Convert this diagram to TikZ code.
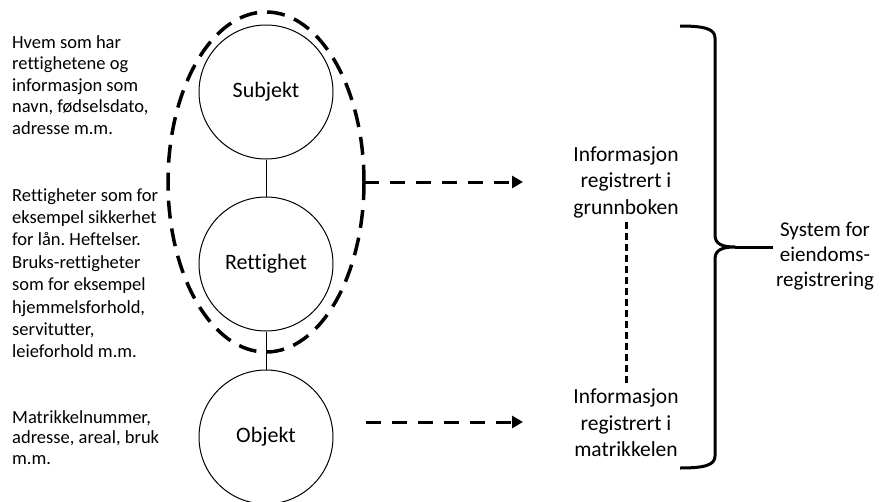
\documentclass[tikz,border=0pt]{standalone}
\usepackage{fontspec}
\setmainfont{Carlito}[Ligatures={NoCommon,NoContextual}]
\usetikzlibrary{arrows.meta}
\frenchspacing
\begin{document}
\begin{tikzpicture}[x=1pt,y=-1pt,
  desc/.style={anchor=north west,inner sep=0pt,align=left,font=\fontsize{18.5}{21.5}\selectfont},
  entity/.style={circle,draw,line width=1pt,minimum size=134pt,inner sep=0pt,font=\fontsize{22}{26}\selectfont},
  info/.style={align=center,inner sep=0pt,font=\fontsize{21.5}{26.5}\selectfont},
  link/.style={line width=1pt},
  ring/.style={line width=3.5pt,dash pattern=on 18pt off 10pt},
  flow/.style={line width=3pt,dash pattern=on 15pt off 11pt,-{Triangle[length=11pt,width=12pt]}},
  chain/.style={line width=3pt,dash pattern=on 7pt off 4pt},
  bracket/.style={line width=3pt,line join=round}]
\useasboundingbox (0,0) rectangle (881,501);

% descriptions on the left
\node[desc] (d1) at (12,35) {Hvem som har\\rettighetene og\\informasjon som\\navn, fødselsdato,\\adresse m.m.};
\node[desc,font=\fontsize{18.5}{22.4}\selectfont] (d2) at (12,188) {Rettigheter som for\\eksempel sikkerhet\\for lån. Heftelser.\\Bruks-rettigheter\\som for eksempel\\hjemmelsforhold,\\servitutter,\\leieforhold m.m.};
\node[desc,font=\fontsize{18.5}{20.5}\selectfont] (d3) at (12,410) {Matrikkelnummer,\\adresse, areal, bruk\\m.m.};

% the three entities
\node[entity] (subj) at (266,92) {Subjekt};
\node[entity] (rett) at (266,264) {Rettighet};
\node[entity] (obj) at (266,437) {Objekt};
\draw[link] (subj) -- (rett);
\draw[link] (rett) -- (obj);

% dashed grouping around subject and right
\draw[ring] (266,182) ellipse [x radius=98, y radius=170];
\coordinate (grp) at (364,182);

% registers
\node[info] (grunn) at (626,182) {Informasjon\\registrert i\\grunnboken};
\node[info] (matr) at (626,423) {Informasjon\\registrert i\\matrikkelen};
\coordinate (grunnin) at (523,182);
\coordinate (objout) at (366,422);
\coordinate (matrin) at (523,422);
\draw[flow] (grp) -- (grunnin);
\draw[flow] (objout) -- (matrin);
\draw[chain] ([yshift=-4pt]grunn.south) -- ([yshift=6pt]matr.north);

% brace with the system label
\node[info,font=\fontsize{21}{25}\selectfont] (sys) at (825,256) {System for\\eiendoms-\\registrering};
\coordinate (tip) at (735,247);
\draw[bracket] (680,26) .. controls (705,26) and (715,29) .. (715,38) -- (715,235)
  .. controls (715,244) and (722,247) .. (tip)
  .. controls (722,247) and (715,250) .. (715,259) -- (715,456)
  .. controls (715,465) and (705,468) .. (680,468);
\draw[bracket] (tip) -- (773,247);
\end{tikzpicture}
\end{document}
